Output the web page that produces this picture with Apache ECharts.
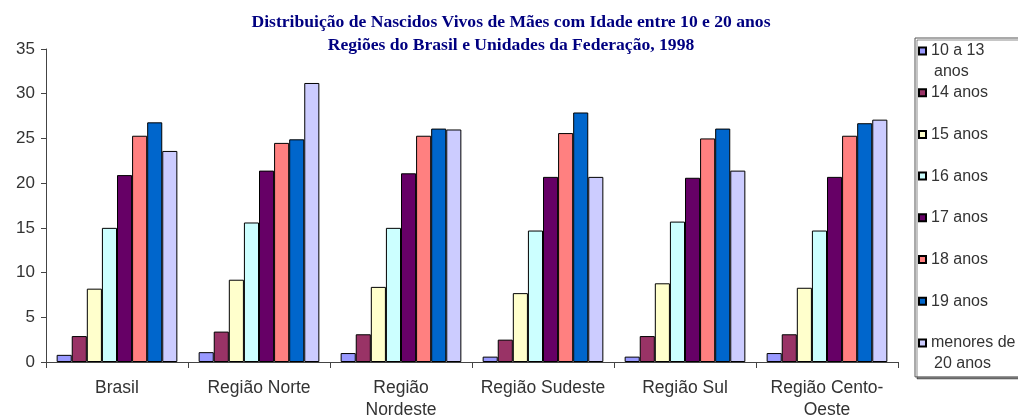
<!DOCTYPE html>
<html><head><meta charset="utf-8">
<script src="https://cdn.jsdelivr.net/npm/echarts@6/dist/echarts.min.js"></script>
<style>html,body{margin:0;padding:0;background:#fff;overflow:hidden}#c{width:1040px;height:418px}</style>
</head><body><div id="c"></div>
<script>
const categories = ['Brasil', 'Região Norte', 'Região\nNordeste', 'Região Sudeste', 'Região Sul', 'Região Cento-\nOeste'];
const seriesNames = ['10 a 13 anos', '14 anos', '15 anos', '16 anos', '17 anos', '18 anos', '19 anos', 'menores de 20 anos'];
const idade10a13 = [0.8, 1.1, 1.0, 0.6, 0.6, 1.0];
const idade14 = [2.9, 3.4, 3.1, 2.5, 2.9, 3.1];
const idade15 = [8.2, 9.2, 8.4, 7.7, 8.8, 8.3];
const idade16 = [15.0, 15.6, 15.0, 14.7, 15.7, 14.7];
const idade17 = [20.9, 21.4, 21.1, 20.7, 20.6, 20.7];
const idade18 = [25.3, 24.5, 25.3, 25.6, 25.0, 25.3];
const idade19 = [26.8, 24.9, 26.1, 27.9, 26.1, 26.7];
const menores20 = [23.6, 31.2, 26.0, 20.7, 21.4, 27.1];
const yTicks = { min: 0, max: 35, interval: 5 };
const colors = ['#9999FF', '#993366', '#FFFFCC', '#CCFFFF', '#660066', '#FF8080', '#0066CC', '#CCCCFF'];

const values = [idade10a13, idade14, idade15, idade16, idade17, idade18, idade19, menores20];
// legend names wrap onto a second line in the original
const legendFirstLine = { '10 a 13 anos': '10 a 13', 'menores de 20 anos': 'menores de' };
const legendSecondLine = [['anos', 0], ['20 anos', 7]];

const legendTop = 38, legendPadTop = 5, itemH = 16, itemGap = 25.7;
const itemStep = itemH + itemGap;
const legendFont = '16px "Liberation Sans"';

const chart = echarts.init(document.getElementById('c'), null, { renderer: 'canvas' });
chart.setOption({
  animation: false,
  backgroundColor: '#fff',
  title: {
    text: 'Distribuição de Nascidos Vivos de Mães com Idade entre 10 e 20 anos\nRegiões do Brasil e Unidades da Federação, 1998',
    left: 511, top: 11, padding: 0, textAlign: 'center',
    textStyle: { fontFamily: 'Liberation Serif', fontWeight: 'bold', fontSize: 17.6, color: '#000080', lineHeight: 23 }
  },
  legend: {
    orient: 'vertical', left: 915, top: legendTop,
    padding: [legendPadTop, 20, 26, 3],
    itemWidth: 7, itemHeight: 7, itemGap: itemGap,
    icon: 'rect',
    backgroundColor: '#fff', borderColor: '#555', borderWidth: 1,
    shadowColor: 'rgba(0,0,0,0.45)', shadowOffsetX: 2, shadowOffsetY: 2, shadowBlur: 0,
    data: seriesNames,
    formatter: function (name) { return legendFirstLine[name] || name; },
    textStyle: { fontFamily: 'Liberation Sans', fontSize: 16, color: '#333', lineHeight: itemH }
  },
  graphic: legendSecondLine.map(function (d) {
    return {
      type: 'text', z: 100,
      left: 934, top: legendTop + legendPadTop + d[1] * itemStep + itemH / 2 + 21 - 8,
      style: { text: d[0], font: legendFont, fill: '#333' }
    };
  }),
  grid: { left: 46, right: 142, top: 49, bottom: 56, containLabel: false, outerBoundsMode: 'none' },
  xAxis: {
    type: 'category', data: categories,
    axisLine: { show: true, lineStyle: { color: '#444', width: 1 } },
    axisTick: { show: true, length: 6, lineStyle: { color: '#444' } },
    axisLabel: { fontFamily: 'Liberation Sans', fontSize: 17.5, color: '#333', lineHeight: 22, margin: 15, interval: 0 },
    splitLine: { show: false }
  },
  yAxis: {
    type: 'value', min: yTicks.min, max: yTicks.max, interval: yTicks.interval,
    axisLine: { show: true, lineStyle: { color: '#444', width: 1 } },
    axisTick: { show: true, length: 5, lineStyle: { color: '#444' } },
    axisLabel: { fontFamily: 'Liberation Sans', fontSize: 17, color: '#333', margin: 11 },
    splitLine: { show: false }
  },
  series: seriesNames.map(function (n, i) {
    return {
      name: n, type: 'bar', data: values[i],
      barGap: '0%', barCategoryGap: '15%',
      itemStyle: { color: colors[i], borderColor: '#000', borderWidth: 1 }
    };
  })
});
</script></body></html>
